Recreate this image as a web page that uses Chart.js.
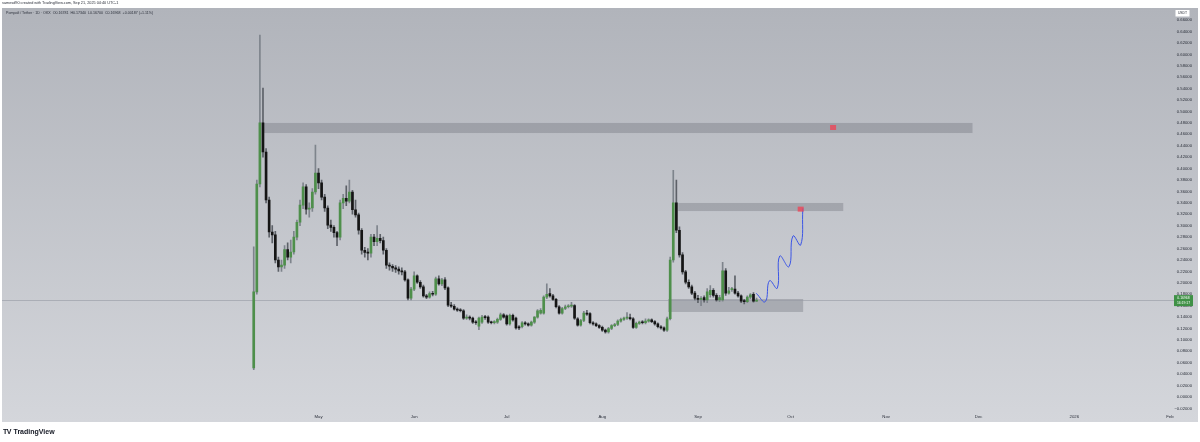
<!DOCTYPE html>
<html><head><meta charset="utf-8">
<script src="https://cdn.jsdelivr.net/npm/chart.js@4.4.1/dist/chart.umd.min.js"></script>
<style>
html,body{margin:0;padding:0;background:#fff;}
#wrap{position:relative;width:1200px;height:442px;overflow:hidden;font-family:"Liberation Sans",Arial,sans-serif;}
#c{position:absolute;left:0;top:0;}
.t{position:absolute;white-space:nowrap;color:#2a2e39;}
</style></head><body>
<div id="wrap">
<canvas id="c" width="1200" height="442"></canvas>
<div class="t" style="left:2px;top:1px;font-size:3.8px;line-height:5px;">samesd90 created with TradingView.com, Sep 21, 2025 04:40 UTC-1</div>
<div class="t" style="left:6px;top:10.5px;font-size:3.6px;line-height:5px;">Pompafi / Tether · 1D · OKX &nbsp;O0.16781 &nbsp;H0.17340 &nbsp;L0.16700 &nbsp;C0.16968 &nbsp;+0.00187 (+1.11%)</div>
<div class="t" style="left:3px;top:427px;font-size:7px;line-height:9px;font-weight:900;letter-spacing:-0.6px;color:#131722;">TV</div>
<div class="t" style="left:13.5px;top:427px;font-size:7px;line-height:9px;font-weight:600;color:#131722;">TradingView</div>
</div>
<script>
// ---- DATA (daily candles, day 0 = 2025-04-10) ----
const open  = [0.051,0.184,0.373,0.480,0.429,0.345,0.289,0.284,0.240,0.228,0.231,0.258,0.245,0.254,0.280,0.306,0.336,0.368,0.329,0.331,
0.359,0.392,0.375,0.350,0.331,0.301,0.297,0.288,0.280,0.340,0.348,0.343,0.359,0.328,0.319,0.292,0.257,0.253,0.252,0.280,
0.272,0.278,0.274,0.257,0.231,0.229,0.226,0.224,0.221,0.219,0.205,0.173,0.189,0.212,0.201,0.193,0.177,0.175,0.181,0.180,
0.207,0.198,0.205,0.191,0.161,0.159,0.154,0.152,0.151,0.138,0.140,0.138,0.131,0.124,0.131,0.140,0.140,0.131,0.130,0.131,
0.136,0.144,0.142,0.128,0.143,0.138,0.123,0.123,0.130,0.128,0.126,0.131,0.140,0.147,0.147,0.175,0.181,0.177,0.171,0.158,
0.147,0.155,0.158,0.159,0.160,0.137,0.126,0.134,0.147,0.146,0.130,0.128,0.125,0.122,0.117,0.114,0.120,0.125,0.127,0.133,
0.136,0.138,0.139,0.137,0.122,0.129,0.131,0.130,0.133,0.135,0.132,0.128,0.123,0.121,0.117,0.137,0.240,0.340,0.292,0.249,
0.219,0.201,0.193,0.182,0.173,0.171,0.174,0.170,0.179,0.187,0.178,0.170,0.170,0.221,0.182,0.188,0.189,0.182,0.177,0.168,
0.167,0.175,0.180,0.16781];
const high  = [0.263,0.380,0.634,0.541,0.435,0.350,0.300,0.290,0.245,0.240,0.265,0.270,0.275,0.290,0.310,0.345,0.375,0.372,0.340,0.365,
0.441,0.400,0.380,0.355,0.335,0.310,0.300,0.290,0.345,0.355,0.370,0.380,0.362,0.345,0.322,0.295,0.262,0.260,0.285,0.285,
0.300,0.285,0.280,0.260,0.235,0.232,0.230,0.228,0.226,0.222,0.207,0.192,0.219,0.214,0.204,0.196,0.180,0.184,0.185,0.210,
0.212,0.208,0.209,0.193,0.166,0.162,0.156,0.155,0.153,0.144,0.142,0.140,0.134,0.140,0.143,0.143,0.142,0.133,0.134,0.138,
0.147,0.146,0.144,0.145,0.145,0.140,0.125,0.132,0.132,0.130,0.133,0.141,0.153,0.155,0.177,0.198,0.190,0.180,0.173,0.160,
0.157,0.161,0.162,0.166,0.162,0.139,0.136,0.150,0.152,0.148,0.132,0.130,0.127,0.124,0.119,0.122,0.127,0.129,0.135,0.138,
0.140,0.148,0.145,0.139,0.131,0.133,0.134,0.137,0.137,0.137,0.134,0.130,0.125,0.123,0.140,0.245,0.397,0.380,0.298,0.253,
0.222,0.205,0.196,0.185,0.178,0.176,0.177,0.190,0.195,0.190,0.181,0.178,0.236,0.225,0.192,0.192,0.212,0.185,0.179,0.171,
0.177,0.181,0.183,0.1734];
const low   = [0.048,0.180,0.368,0.420,0.340,0.280,0.270,0.235,0.220,0.220,0.225,0.240,0.235,0.250,0.275,0.300,0.330,0.320,0.315,0.325,
0.355,0.365,0.345,0.325,0.295,0.290,0.280,0.265,0.275,0.330,0.335,0.340,0.320,0.315,0.285,0.250,0.245,0.240,0.245,0.265,
0.265,0.270,0.250,0.225,0.222,0.220,0.218,0.215,0.214,0.203,0.170,0.170,0.186,0.199,0.190,0.175,0.172,0.173,0.177,0.178,
0.196,0.195,0.188,0.158,0.157,0.152,0.150,0.149,0.136,0.136,0.135,0.129,0.127,0.118,0.129,0.136,0.129,0.128,0.128,0.129,
0.134,0.138,0.126,0.126,0.133,0.119,0.118,0.121,0.126,0.124,0.124,0.129,0.138,0.145,0.145,0.172,0.175,0.169,0.156,0.145,
0.145,0.153,0.156,0.157,0.136,0.124,0.124,0.132,0.143,0.128,0.126,0.123,0.120,0.115,0.112,0.112,0.118,0.123,0.125,0.131,
0.134,0.136,0.135,0.120,0.120,0.127,0.128,0.128,0.131,0.130,0.126,0.121,0.119,0.115,0.115,0.135,0.236,0.288,0.245,0.215,
0.198,0.190,0.179,0.170,0.165,0.160,0.166,0.165,0.175,0.175,0.168,0.167,0.168,0.178,0.180,0.185,0.180,0.175,0.165,0.163,
0.165,0.172,0.166,0.1670];
const close = [0.184,0.373,0.480,0.429,0.345,0.289,0.284,0.240,0.228,0.231,0.258,0.245,0.254,0.280,0.306,0.336,0.368,0.329,0.331,0.359,
0.392,0.375,0.350,0.331,0.301,0.297,0.288,0.280,0.340,0.348,0.343,0.359,0.328,0.319,0.292,0.257,0.253,0.252,0.280,0.272,
0.278,0.274,0.257,0.231,0.229,0.226,0.224,0.221,0.219,0.205,0.173,0.189,0.212,0.201,0.193,0.177,0.175,0.181,0.180,0.207,
0.198,0.205,0.191,0.161,0.159,0.154,0.152,0.151,0.138,0.140,0.138,0.131,0.130,0.138,0.140,0.139,0.131,0.130,0.132,0.136,
0.144,0.140,0.128,0.143,0.135,0.121,0.121,0.130,0.128,0.126,0.131,0.140,0.151,0.152,0.175,0.180,0.177,0.171,0.158,0.147,
0.155,0.158,0.159,0.161,0.138,0.126,0.134,0.147,0.145,0.130,0.128,0.125,0.122,0.117,0.114,0.120,0.125,0.127,0.133,0.136,
0.138,0.139,0.137,0.122,0.129,0.131,0.130,0.133,0.135,0.132,0.128,0.123,0.121,0.117,0.137,0.240,0.340,0.292,0.249,0.219,
0.201,0.193,0.182,0.173,0.171,0.172,0.170,0.184,0.187,0.178,0.170,0.174,0.221,0.182,0.186,0.189,0.182,0.177,0.168,0.167,
0.175,0.179,0.168,0.16968];

// month ticks (days since 2025-04-10) and labels
const monthDays   = [21, 52, 82, 113, 144, 174, 205, 235, 266, 297];
const monthLabels = ['May','Jun','Jul','Aug','Sep','Oct','Nov','Dec','2026','Feb'];
// price ticks
const yTicks = [-0.02,0.00,0.02,0.04,0.06,0.08,0.10,0.12,0.14,0.16,0.18,0.20,0.22,0.24,0.26,0.28,0.30,0.32,0.34,
0.36,0.38,0.40,0.42,0.44,0.46,0.48,0.50,0.52,0.54,0.56,0.58,0.60,0.62,0.64,0.66];

// drawn zones (day start, day end, price high, price low)
const zoneStart = [2.8, 137.6, 134.3];
const zoneEnd   = [233.0, 191.1, 178.1];
const zoneHigh  = [0.4799, 0.3398, 0.1716];
const zoneLow   = [0.4623, 0.3257, 0.1489];
// target markers
const markerDay   = [187.8, 177.3];
const markerPrice = [0.4720, 0.3290];
// projected path
const projDay   = [162.9, 165.8, 167.2, 169.7, 170.5, 173.5, 174.8, 177.3, 178.0];
const projPrice = [0.1816, 0.1669, 0.2037, 0.1904, 0.2469, 0.2282, 0.2820, 0.2662, 0.3305];
const countdown = '16:19:17';

// ---- CHART ----
const UP = '#4e8f4b', DOWN = '#151515';
const days = open.map((_, i) => i);
const bodyColors = open.map((o, i) => close[i] >= o ? UP : DOWN);
const wickColors = open.map((o, i) => close[i] >= o ? '#7e848c' : '#5d6168');
const FONT = '"Liberation Sans", Arial, sans-serif';

const fmt = v => (v < -1e-9 ? '\u2212' : '') + Math.abs(v).toFixed(5);

const decor = {
  id: 'decor',
  beforeDraw(c) {
    const g = c.ctx; g.save();
    g.fillStyle = '#ffffff'; g.fillRect(0, 0, 1200, 442);
    const gr = g.createLinearGradient(0, 8, 0, 422);
    gr.addColorStop(0, '#b1b4bb'); gr.addColorStop(1, '#d4d6db');
    g.fillStyle = gr; g.fillRect(2, 8, 1196, 414);
    g.restore();
  },
  beforeDatasetsDraw(c) {
    const g = c.ctx, xs = c.scales.x, ys = c.scales.y; g.save();
    g.fillStyle = 'rgba(100,103,113,0.33)';
    for (let i = 0; i < zoneStart.length; i++) {
      const x1 = xs.getPixelForValue(zoneStart[i]), x2 = xs.getPixelForValue(zoneEnd[i]);
      const y1 = ys.getPixelForValue(zoneHigh[i]), y2 = ys.getPixelForValue(zoneLow[i]);
      g.fillRect(x1, y1, x2 - x1, y2 - y1);
    }
    const py = Math.round(ys.getPixelForValue(close[close.length - 1])) + 0.5;
    g.strokeStyle = 'rgba(150,154,163,0.6)'; g.lineWidth = 1;
    g.beginPath(); g.moveTo(2, py); g.lineTo(1174, py); g.stroke();
    g.restore();
  },
  afterDatasetsDraw(c) {
    const g = c.ctx, xs = c.scales.x, ys = c.scales.y; g.save();
    g.fillStyle = 'rgba(236,70,88,0.8)';
    for (let i = 0; i < markerDay.length; i++) {
      const x = xs.getPixelForValue(markerDay[i]), y = ys.getPixelForValue(markerPrice[i]);
      g.fillRect(x - 3, y - 2.5, 6, 5);
    }
    g.restore();
  },
  afterDraw(c) {
    const g = c.ctx, ys = c.scales.y; g.save();
    const last = close[close.length - 1];
    const py = ys.getPixelForValue(last);
    g.fillStyle = '#3f9146'; g.fillRect(1174, py - 5, 19, 11);
    g.fillStyle = '#ffffff'; g.font = '3.4px ' + FONT; g.textAlign = 'center'; g.textBaseline = 'middle';
    g.fillText(last.toFixed(5), 1183.5, py - 2);
    g.fillText(countdown, 1183.5, py + 3);
    g.fillStyle = '#ffffff'; g.fillRect(1175.5, 10, 14, 6.5);
    g.fillStyle = '#2a2e39'; g.font = '3.4px ' + FONT;
    g.fillText('USDT', 1182.5, 13.3);
    g.restore();
  }
};

new Chart(document.getElementById('c'), {
  type: 'bar',
  data: {
    datasets: [
      { type: 'line', data: projDay.map((d, i) => ({ x: d, y: projPrice[i] })), borderColor: '#3b55e6',
        borderWidth: 1, pointRadius: 0, tension: 0.45, order: 0 },
      { data: days.map((d, i) => ({ x: d, y: [open[i], close[i]] })), backgroundColor: bodyColors,
        barThickness: 2, minBarLength: 1, grouped: false, order: 1 },
      { data: days.map((d, i) => ({ x: d, y: [low[i], high[i]] })), backgroundColor: wickColors,
        barThickness: 1, grouped: false, order: 2 }
    ]
  },
  options: {
    responsive: false, devicePixelRatio: 1, animation: false, events: [],
    layout: { padding: { top: 8, bottom: 20, left: 2, right: 6 } },
    plugins: { legend: { display: false }, tooltip: { enabled: false } },
    scales: {
      x: { type: 'linear', min: -81.6, max: 303.5, offset: false,
        grid: { display: false, drawTicks: false }, border: { display: false },
        afterBuildTicks: s => { s.ticks = monthDays.map(v => ({ value: v })); },
        ticks: { autoSkip: false, maxRotation: 0, padding: 2.5, color: '#2a2e39',
          font: { size: 4.3, family: FONT }, callback: (v, i) => monthLabels[i] } },
      y: { type: 'linear', position: 'right', min: -0.02599, max: 0.68126,
        grid: { display: false, drawTicks: false }, border: { display: false },
        afterBuildTicks: s => { s.ticks = yTicks.map(v => ({ value: v })); },
        ticks: { mirror: true, autoSkip: false, padding: 2, color: '#2a2e39',
          font: { size: 4.2, family: FONT }, callback: v => fmt(v) } }
    }
  },
  plugins: [decor]
});
</script>
</body></html>
